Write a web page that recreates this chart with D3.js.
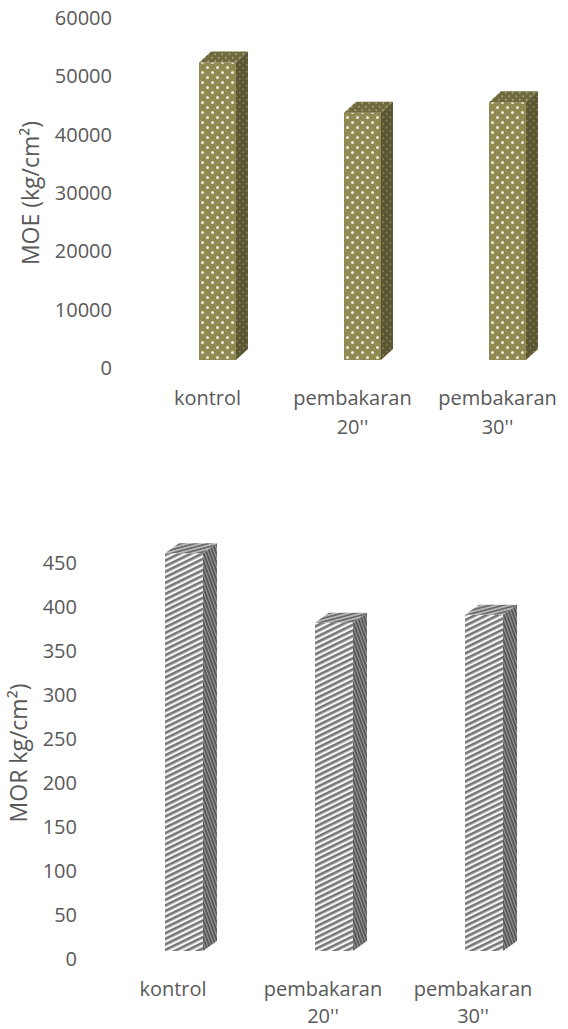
<!DOCTYPE html>
<html>
<head>
<meta charset="utf-8">
<script src="https://cdn.jsdelivr.net/npm/d3@7"></script>
<style>
  html, body { margin: 0; padding: 0; background: #fff; }
  svg { display: block; }
  text { font-family: "Open Sans", sans-serif; fill: #595959; }
</style>
</head>
<body>
<svg id="chart" width="568" height="1029"></svg>
<script>
const categories = ["kontrol", "pembakaran 20''", "pembakaran 30''"];
const moeValues = [51000, 42400, 44200];
const morValues = [452, 373, 382];
const moeTicks = [0, 10000, 20000, 30000, 40000, 50000, 60000];
const morTicks = [0, 50, 100, 150, 200, 250, 300, 350, 400, 450];

const svg = d3.select("#chart");
const defs = svg.append("defs");

// dotted pattern for the first chart, one per bar face
function dotPattern(id, base, dot, size, r) {
  const p = defs.append("pattern")
      .attr("id", id)
      .attr("patternUnits", "userSpaceOnUse")
      .attr("width", size)
      .attr("height", size);
  p.append("rect").attr("width", size).attr("height", size).attr("fill", base);
  p.append("circle").attr("cx", size / 4).attr("cy", size / 4).attr("r", r).attr("fill", dot);
  p.append("circle").attr("cx", 3 * size / 4).attr("cy", 3 * size / 4).attr("r", r).attr("fill", dot);
}

// diagonal stripes for the second chart
function stripePattern(id, base, line, size, width, angle) {
  const p = defs.append("pattern")
      .attr("id", id)
      .attr("patternUnits", "userSpaceOnUse")
      .attr("width", size)
      .attr("height", size)
      .attr("patternTransform", "rotate(" + angle + ")");
  p.append("rect").attr("width", size).attr("height", size).attr("fill", base);
  p.append("rect").attr("width", size).attr("height", width).attr("fill", line);
}

dotPattern("dotFront", "#8f8a52", "#eeebdc", 10, 1.5);
dotPattern("dotTop", "#6f6b3d", "#a9a680", 7, 0.9);
dotPattern("dotSide", "#5a5732", "#858259", 7, 0.9);
stripePattern("stripeFront", "#f5f5f5", "#767676", 5, 2.6, -26);
stripePattern("stripeTop", "#b8b8b8", "#6a6a6a", 3.4, 1.7, -15);
stripePattern("stripeSide", "#999999", "#4f4f4f", 3, 1.7, 70);

function drawChart(values, ticks, opt) {
  const y = d3.scaleLinear().domain([0, ticks[ticks.length - 1]]).range(opt.yRange);
  const x = d3.scaleBand().domain(categories).range(opt.xRange).paddingInner(opt.gap).paddingOuter(0);

  const g = svg.append("g");

  // y axis: only the labels are visible
  const axis = g.append("g")
      .attr("transform", "translate(" + opt.axisX + ",0)")
      .call(d3.axisLeft(y).tickValues(ticks).tickSize(0).tickPadding(0).tickFormat(d3.format("d")));
  axis.select(".domain").remove();
  axis.selectAll("text").attr("font-size", 20).attr("text-anchor", "end");

  g.append("text")
      .attr("transform", "translate(" + opt.titleX + "," + opt.titleY + ") rotate(-90)")
      .attr("text-anchor", "middle")
      .attr("font-size", 23)
      .text(opt.title);

  // bars stand a little above the tick zero, this is the 3d floor
  const floor = opt.floor;
  const dx = opt.depthX;
  const dy = opt.depthY;
  const bars = g.selectAll(".bar").data(values).enter().append("g").attr("class", "bar");
  const cat = (v, i) => categories[i];

  bars.append("rect")
      .attr("x", (v, i) => x(cat(v, i)))
      .attr("y", v => y(v) - floor)
      .attr("width", x.bandwidth())
      .attr("height", v => y(0) - y(v))
      .attr("fill", "url(#" + opt.front + ")");

  bars.append("path")
      .attr("d", (v, i) => {
        const x0 = x(cat(v, i)), x1 = x0 + x.bandwidth(), t = y(v) - floor;
        return "M" + x0 + "," + t + "L" + (x0 + dx) + "," + (t - dy) + "L" + (x1 + dx) + "," + (t - dy) + "L" + x1 + "," + t + "Z";
      })
      .attr("fill", "url(#" + opt.top + ")");

  bars.append("path")
      .attr("d", (v, i) => {
        const x1 = x(cat(v, i)) + x.bandwidth(), t = y(v) - floor, b = y(0) - floor;
        return "M" + x1 + "," + t + "L" + (x1 + dx) + "," + (t - dy) + "L" + (x1 + dx) + "," + (b - dy) + "L" + x1 + "," + b + "Z";
      })
      .attr("fill", "url(#" + opt.side + ")");

  // category labels, the long ones break over two lines
  const labels = g.selectAll(".cat").data(categories).enter().append("text")
      .attr("class", "cat")
      .attr("text-anchor", "middle")
      .attr("font-size", 20)
      .attr("y", opt.labelY);
  labels.selectAll("tspan")
      .data(c => c.split(" "))
      .enter().append("tspan")
      .attr("x", function() {
        const c = d3.select(this.parentNode).datum();
        return x(c) + x.bandwidth() / 2 + opt.labelShift;
      })
      .attr("dy", (t, i) => i ? opt.labelGap : 0)
      .text(t => t);
}

drawChart(moeValues, moeTicks, {
  yRange: [368, 18], xRange: [199, 526], gap: 0.745, axisX: 112, floor: 8, depthX: 12, depthY: 11,
  title: "MOE (kg/cm²)", titleX: 39, titleY: 193, labelY: 405, labelGap: 29, labelShift: -10,
  front: "dotFront", top: "dotTop", side: "dotSide"
});

drawChart(morValues, morTicks, {
  yRange: [959, 563], xRange: [165, 503], gap: 0.747, axisX: 77, floor: 8, depthX: 14, depthY: 10,
  title: "MOR kg/cm²)", titleX: 27, titleY: 753, labelY: 996, labelGap: 27, labelShift: -11,
  front: "stripeFront", top: "stripeTop", side: "stripeSide"
});
</script>
</body>
</html>
